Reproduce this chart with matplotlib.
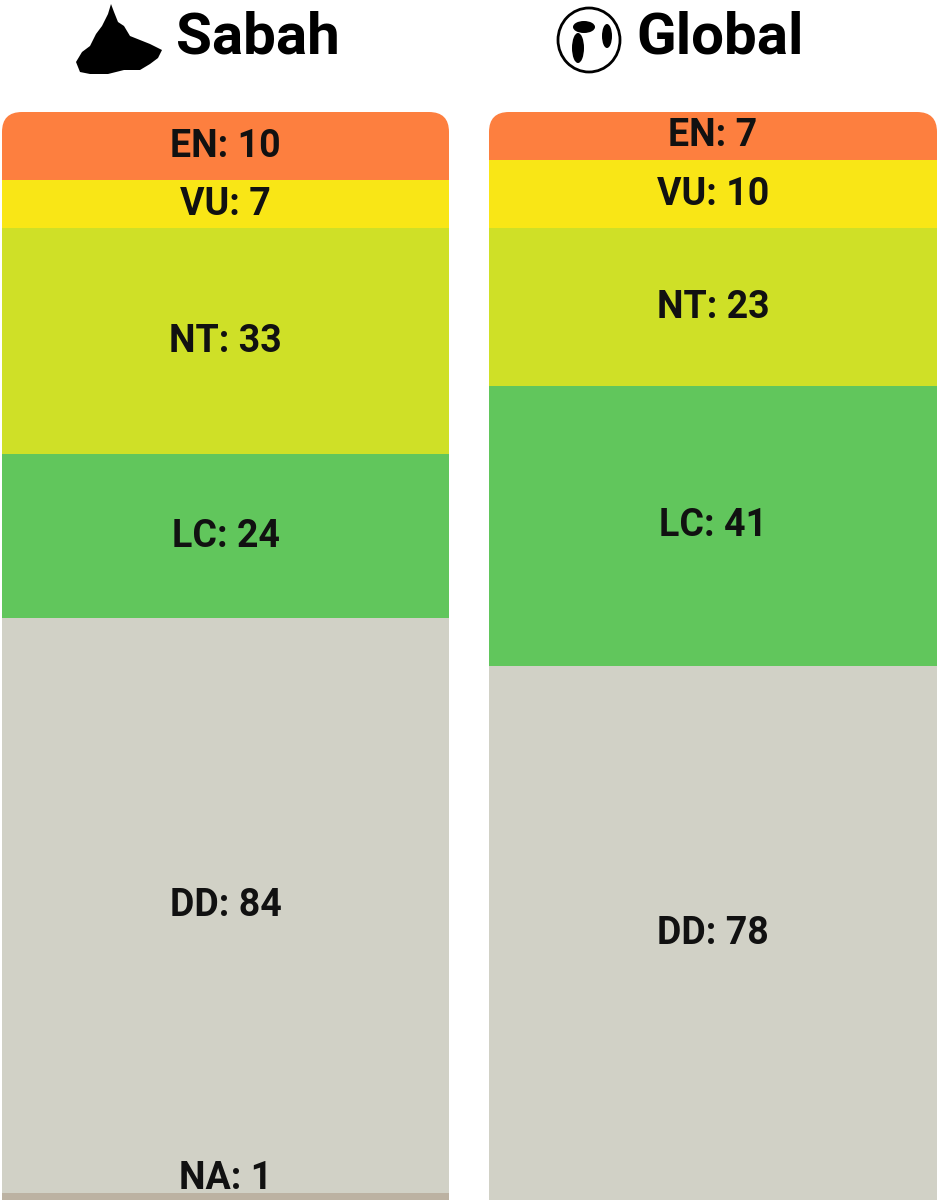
import matplotlib.pyplot as plt
from matplotlib.patches import FancyBboxPatch, Rectangle, Polygon, Ellipse

categories = ['EN', 'VU', 'NT', 'LC', 'DD', 'NA']
sabah = [10, 7, 33, 24, 84, 1]
global_ = [7, 10, 23, 41, 78, 0]
colors = ['#fd7f3f', '#f9e616', '#cfe027', '#61c65c', '#d1d1c6', '#bcb2a2']
titles = ['Sabah', 'Global']

W, H = 939, 1200
top_px = 112
total = sum(sabah)
upp = total / (H - top_px)          # data units per pixel in y
font = ['Roboto', 'DejaVu Sans']

fig = plt.figure(figsize=(W / 100, H / 100), dpi=100)
ax = fig.add_axes([0, 0, 1, 1])
ax.set_xlim(0, W)
ax.set_ylim(total, -top_px * upp)
ax.axis('off')


def py(p):
    # pixel row above the bars -> data y
    return -top_px * upp + p * upp


cols = [(2, 447), (489, 448)]
for (x0, w), vals in zip(cols, [sabah, global_]):
    y = 0
    for i, (cat, v) in enumerate(zip(categories, vals)):
        if v == 0:
            continue
        if i == 0:
            ax.add_patch(FancyBboxPatch((x0, y), w, v, boxstyle='round,pad=0,rounding_size=20',
                                        mutation_aspect=upp, fc=colors[i], ec='none'))
            ax.add_patch(Rectangle((x0, y + v / 2), w, v / 2, fc=colors[i], ec='none'))
        else:
            ax.bar(x0, v, width=w, bottom=y, align='edge', color=colors[i], linewidth=0)
        ty = y + v / 2 if cat != 'NA' else y - 2.2
        ax.text(x0 + w / 2, ty, f'{cat}: {v}', ha='center', va='center',
                fontsize=27, fontweight='bold', family=font, color='#111111')
        y += v

# titles
ax.text(176, py(38), titles[0], ha='left', va='center',
        fontsize=42, fontweight='bold', family=font)
ax.text(636, py(38), titles[1], ha='left', va='center',
        fontsize=42, fontweight='bold', family=font)

# rough Sabah silhouette
sabah_shape = [(76, 62), (82, 52), (90, 46), (96, 34), (102, 26), (108, 14), (111, 4),
               (114, 12), (118, 22), (124, 26), (130, 36), (140, 40), (150, 44), (162, 50),
               (158, 58), (150, 64), (140, 70), (124, 70), (108, 74), (90, 74), (80, 72)]
ax.add_patch(Polygon([(x, py(p)) for x, p in sabah_shape], closed=True, fc='black', ec='none'))

# globe icon
ax.add_patch(Ellipse((589, py(40)), 62, 64 * upp, fc='white', ec='black', lw=2))
ax.add_patch(Ellipse((578, py(48)), 12, 30 * upp, angle=0, fc='black', ec='none'))
ax.add_patch(Ellipse((584, py(27)), 22, 12 * upp, fc='black', ec='none'))
ax.add_patch(Ellipse((607, py(36)), 10, 24 * upp, fc='black', ec='none'))

fig.savefig('out.png', dpi=100, facecolor='white')
